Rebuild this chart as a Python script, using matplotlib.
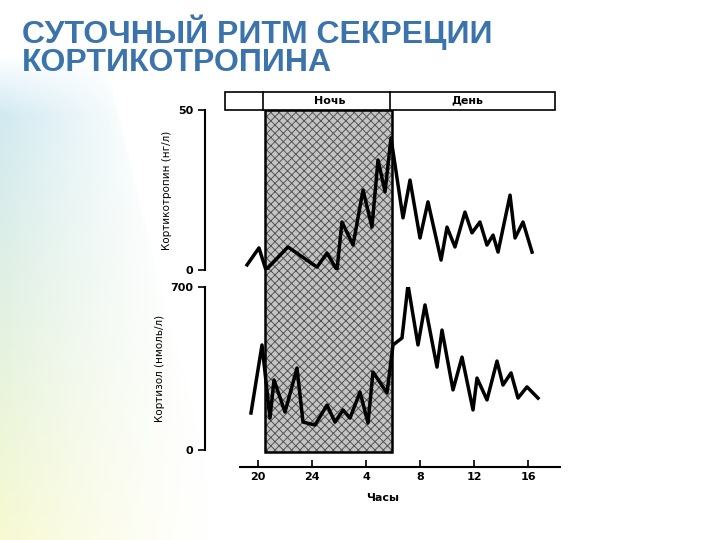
import numpy as np
import matplotlib
matplotlib.use("Agg")
import matplotlib.pyplot as plt
from matplotlib.patches import Rectangle

acth_h = [19.19,20.07,20.59,22.22,24.37,25.11,25.85,26.22,27.04,27.78,28.44,28.89,29.41,29.85,30.74,31.26,32.0,32.59,33.56,34.0,34.59,35.33,35.85,36.44,36.96,37.41,37.78,38.67,39.04,39.63,40.3]
acth_v = [1.6,6.9,0,7.2,0.9,5.3,0,15,7.8,25,13.4,34.4,24.4,41.3,16.3,28.1,10,21.3,3.1,13.4,7.2,18.1,11.6,15,7.8,10.9,5.6,23.4,10,15,5.6]
cort_px = [251,262,270,274,285,297,303,315,327,335,343,350,360,368,373,387,393,402,408,418,425,437,442,453,462,473,477,487,497,503,511,518,527,538]
cort_h = [20 + (p - 258) / 13.5 for p in cort_px]
cort_v = [159,451,137,301,163,352,120,107,193,120,172,137,249,116,335,245,451,481,709,451,623,356,515,258,399,172,309,215,382,279,331,223,271,223]
tick_pos = [20, 24, 28, 32, 36, 40]
tick_lab = ["20", "24", "4", "8", "12", "16"]

W, H = 720, 540
fig = plt.figure(figsize=(7.2, 5.4), dpi=100)
px2h = lambda p: 20 + (p - 258) / 13.5
XL = (px2h(205), px2h(560))

bg = fig.add_axes([0, 0, 1, 1], zorder=-10)
bg.set_axis_off()
yy, xx = np.mgrid[0:H, 0:W]
top = np.array([0.78, 0.90, 0.98]); bot = np.array([0.97, 0.98, 0.82])
t = (yy / H)[..., None]
col = top * (1 - t) + bot * t
alpha = np.clip(1 - xx / 210.0, 0, 1) * np.clip((yy - 55) / 60.0, 0, 1)
alpha = alpha * np.clip(1 - (xx - 0) / (90 + yy * 0.25), 0, 1) ** 0.3
img = np.concatenate([col, alpha[..., None]], axis=2)
bg.imshow(img, extent=[0, 1, 0, 1], aspect="auto", origin="upper")
bg.set_xlim(0, 1); bg.set_ylim(0, 1)

fig.text(22 / W, 1 - 46 / H, "СУТОЧНЫЙ РИТМ СЕКРЕЦИИ\nКОРТИКОТРОПИНА", fontsize=23,
         fontweight="bold", color="#3b74ad", family="Liberation Sans", va="center",
         linespacing=0.92)

def ax_at(x0, y0, x1, y1):
    return fig.add_axes([x0 / W, 1 - y1 / H, (x1 - x0) / W, (y1 - y0) / H])

def frect(x0, y0, x1, y1, **kw):
    fig.patches.append(Rectangle((x0 / W, 1 - y1 / H), (x1 - x0) / W, (y1 - y0) / H,
                                 transform=fig.transFigure, **kw))
plt.rcParams["hatch.linewidth"] = 0.7
frect(265, 110, 392, 452, facecolor="#c4c4c4", edgecolor="#555555", hatch="xxxx", lw=0, zorder=1)
frect(265, 110, 392, 452, facecolor="none", edgecolor="black", lw=1.8, zorder=1)
frect(225, 92, 555, 110, facecolor="white", edgecolor="black", lw=1.2, zorder=1)
for xp in (263, 390):
    fig.lines.append(plt.Line2D([xp / W] * 2, [1 - 110 / H, 1 - 92 / H], transform=fig.transFigure, color="black", lw=1.2))
fig.text(330 / W, 1 - 101 / H, "Ночь", ha="center", va="center", fontsize=8, fontweight="bold")
fig.text(467 / W, 1 - 100 / H, "День", ha="center", va="center", fontsize=8, fontweight="bold")

ax1 = ax_at(205, 110, 560, 270)
ax2 = ax_at(205, 287, 560, 450)
for ax in (ax1, ax2):
    ax.patch.set_alpha(0)
    ax.set_zorder(2)
    for s in ("top", "right", "bottom"):
        ax.spines[s].set_visible(False)
    ax.spines["left"].set_linewidth(1.5)
    ax.set_xlim(*XL)
    ax.tick_params(axis="y", labelsize=8, length=5, width=1.2)

ax1.plot(acth_h, acth_v, color="black", lw=2.5)
ax1.set_ylim(0, 50); ax1.set_yticks([0, 50]); ax1.set_xticks([])
ax1.set_ylabel("Кортикотропин (нг/л)", fontsize=7.5)
ax2.plot(cort_h, cort_v, color="black", lw=2.5)
ax2.set_ylim(0, 700); ax2.set_yticks([0, 700])
ax2.set_ylabel("Кортизол (нмоль/л)", fontsize=7.5)
ax2.spines["bottom"].set_visible(True)
ax2.spines["bottom"].set_position(("outward", 12))
ax2.spines["bottom"].set_bounds(px2h(240), XL[1])
ax2.spines["bottom"].set_linewidth(1.5)
ax2.set_xticks(tick_pos); ax2.set_xticklabels(tick_lab, fontsize=8, fontweight="bold")
ax2.tick_params(axis="x", direction="in", length=5, width=1.2)
ax2.set_xlabel("Часы", fontsize=8, fontweight="bold", labelpad=8)
for lab in ax1.get_yticklabels() + ax2.get_yticklabels():
    lab.set_fontweight("bold")

fig.savefig("out.png", dpi=100)
